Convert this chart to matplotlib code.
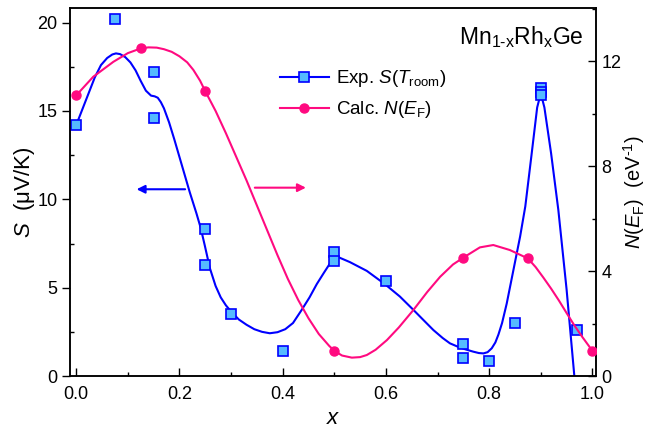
import matplotlib
matplotlib.use("Agg")
import matplotlib.pyplot as plt
from matplotlib.ticker import MultipleLocator

plt.rcParams['font.family'] = ['Liberation Sans', 'DejaVu Sans']
plt.rcParams['mathtext.fontset'] = 'custom'
plt.rcParams['mathtext.rm'] = 'Liberation Sans'
plt.rcParams['mathtext.it'] = 'Liberation Sans:italic'
plt.rcParams['mathtext.bf'] = 'Liberation Sans:bold'

# Experimental Seebeck coefficient S (uV/K)
s_x = [0.0, 0.075, 0.15, 0.15, 0.25, 0.25, 0.30, 0.40, 0.50, 0.50, 0.60,
       0.75, 0.75, 0.80, 0.85, 0.90, 0.90, 0.90, 0.97]
s_val = [14.2, 20.2, 17.2, 14.6, 8.3, 6.3, 3.5, 1.4, 7.0, 6.5, 5.4,
         1.8, 1.0, 0.85, 3.0, 16.3, 16.1, 15.9, 2.6]

# Calculated N(E_F) (eV^-1)
n_x = [0.0, 0.125, 0.25, 0.50, 0.75, 0.875, 1.0]
n_val = [10.7, 12.48, 10.85, 0.96, 4.51, 4.48, 0.96]

# Guide-to-the-eye curve for S
s_fit_x = [0.0, 0.012, 0.024, 0.036, 0.048, 0.06, 0.07, 0.077, 0.085, 0.095,
           0.105, 0.115, 0.125, 0.135, 0.145, 0.152, 0.158, 0.164, 0.17, 0.18,
           0.19, 0.2, 0.21, 0.22, 0.233, 0.241, 0.249, 0.259, 0.27, 0.28,
           0.29, 0.3, 0.315, 0.33, 0.345, 0.36, 0.375, 0.39, 0.405, 0.42,
           0.437, 0.452, 0.466, 0.48, 0.49, 0.5, 0.51, 0.53, 0.563, 0.598,
           0.627, 0.653, 0.675, 0.692, 0.71, 0.724, 0.74, 0.755, 0.769, 0.78,
           0.789, 0.797, 0.805, 0.812, 0.818, 0.825, 0.834, 0.847, 0.86, 0.87,
           0.882, 0.893, 0.9, 0.907, 0.92, 0.934, 0.95, 0.965, 0.968]
s_fit_val = [14.2, 15.1, 16.0, 16.9, 17.6, 18.0, 18.2, 18.26, 18.22, 18.05,
             17.75, 17.3, 16.7, 16.15, 15.87, 15.83, 15.75, 15.5, 15.15, 14.35,
             13.4, 12.4, 11.4, 10.4, 9.2, 8.4, 7.4, 6.1, 5.1, 4.45,
             4.0, 3.65, 3.2, 2.9, 2.65, 2.5, 2.42, 2.48, 2.65, 3.0,
             3.75, 4.45, 5.2, 5.85, 6.3, 6.75, 6.7, 6.45, 5.95, 5.2,
             4.5, 3.75, 3.1, 2.6, 2.15, 1.85, 1.65, 1.5, 1.38, 1.3,
             1.28, 1.35, 1.57, 1.9, 2.35, 3.0, 4.1, 6.0, 7.9, 9.6,
             12.5, 15.2, 16.0, 15.2, 12.6, 9.4, 4.9, 0.0, -0.6]

# Curve for N(E_F)
n_fit_x = [0.0, 0.033, 0.072, 0.1, 0.125, 0.14, 0.156, 0.17, 0.185, 0.2,
           0.215, 0.227, 0.24, 0.25, 0.27, 0.29, 0.31, 0.33, 0.35, 0.37,
           0.39, 0.41, 0.43, 0.45, 0.47, 0.49, 0.5, 0.515, 0.534, 0.55,
           0.563, 0.58, 0.602, 0.625, 0.653, 0.68, 0.705, 0.73, 0.75, 0.782,
           0.808, 0.84, 0.875, 0.89, 0.905, 0.92, 0.935, 0.95, 0.965, 0.98, 1.0]
n_fit_val = [10.69, 11.4, 11.97, 12.3, 12.48, 12.52, 12.51, 12.45, 12.35, 12.18,
             11.95, 11.66, 11.25, 10.85, 10.1, 9.25, 8.35, 7.45, 6.5, 5.55,
             4.6, 3.7, 2.9, 2.2, 1.6, 1.15, 0.96, 0.78, 0.70, 0.72,
             0.8, 1.0, 1.37, 1.85, 2.51, 3.2, 3.78, 4.25, 4.51, 4.9,
             4.99, 4.8, 4.48, 4.15, 3.75, 3.33, 2.88, 2.4, 1.93, 1.5, 0.96]

blue = '#0000FF'
fill = '#55BBFF'
pink = '#FF0A80'

fig = plt.figure(figsize=(6.47, 4.32), dpi=100)
ax = fig.add_axes([0.1082, 0.1296, 0.8130, 0.8519])
ax2 = ax.twinx()

ax.plot(s_fit_x, s_fit_val, color=blue, lw=1.5, zorder=2)
ax.plot(s_x, s_val, ls='none', marker='s', ms=7, mfc=fill, mec=blue,
        mew=1.2, zorder=3)

ax2.plot(n_fit_x, n_fit_val, color=pink, lw=1.5, zorder=2)
ax2.plot(n_x, n_val, ls='none', marker='o', ms=6.5, color=pink, zorder=3)

ax.set_xlim(-0.012, 1.007)
ax.set_ylim(0, 20.83)
ax2.set_ylim(0, 14.02)

ax.xaxis.set_major_locator(MultipleLocator(0.2))
ax.xaxis.set_minor_locator(MultipleLocator(0.1))
ax.yaxis.set_major_locator(MultipleLocator(5))
ax.yaxis.set_minor_locator(MultipleLocator(2.5))
ax2.yaxis.set_major_locator(MultipleLocator(4))
ax2.yaxis.set_minor_locator(MultipleLocator(2))
ax.set_xticks([0.0, 0.2, 0.4, 0.6, 0.8, 1.0])
ax.set_xticklabels(['0.0', '0.2', '0.4', '0.6', '0.8', '1.0'])

ax.tick_params(axis='x', which='major', direction='in', length=6, width=1,
               labelsize=13, pad=7)
ax.tick_params(axis='x', which='minor', direction='in', length=3, width=1)
ax.tick_params(axis='y', which='major', direction='out', length=6, width=1,
               labelsize=13, pad=3)
ax.tick_params(axis='y', which='minor', direction='in', length=3, width=1)
ax2.tick_params(axis='y', which='major', direction='in', length=6, width=1,
                labelsize=13, pad=4)
ax2.tick_params(axis='y', which='minor', direction='in', length=3, width=1)
for a in (ax, ax2):
    for sp in a.spines.values():
        sp.set_linewidth(1.1)

ax.set_xlabel(r'$x$', fontsize=16, labelpad=4)
ax.set_ylabel(r'$S$  (μV/K)', fontsize=16, labelpad=0)
ax2.set_ylabel(r'$N$($E_{\rm F}$)  (eV$^{\rm \text{-}1}$)', fontsize=14.5, labelpad=0)

ax.text(0.977, 0.955, r'Mn$_{\rm 1\text{-}x}$Rh$_{\rm x}$Ge', transform=ax.transAxes,
        ha='right', va='top', fontsize=16.5)

ax.annotate('', xy=(0.117, 10.57), xytext=(0.211, 10.57),
            arrowprops=dict(arrowstyle='-|>', color=blue, lw=1.5,
                            mutation_scale=12, shrinkA=0, shrinkB=0))
ax.annotate('', xy=(0.445, 10.66), xytext=(0.346, 10.66),
            arrowprops=dict(arrowstyle='-|>', color=pink, lw=1.5,
                            mutation_scale=12, shrinkA=0, shrinkB=0))

h1, = ax.plot([], [], color=blue, lw=1.5, marker='s', ms=7, mfc=fill,
              mec=blue, mew=1.2)
h2, = ax.plot([], [], color=pink, lw=1.5, marker='o', ms=6.5)
ax2.legend([h1, h2], [r'Exp. $S$($T_{\rm room}$)', r'Calc. $N$($E_{\rm F}$)'],
           loc='upper left', bbox_to_anchor=(0.385, 0.857), frameon=False,
           fontsize=13.5, handlelength=2.6, handletextpad=0.4, labelspacing=0.55,
           borderaxespad=0)

fig.savefig('out.png', dpi=100)
